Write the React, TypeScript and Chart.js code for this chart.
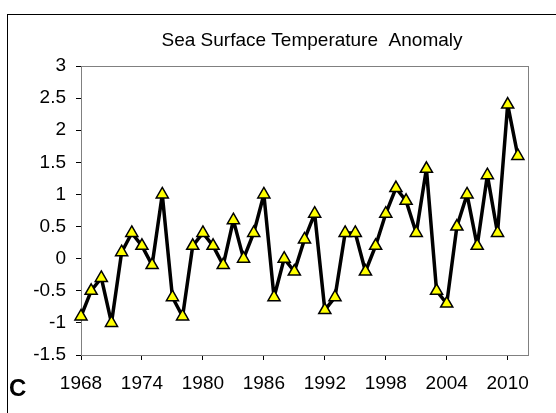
import React, { useEffect, useRef } from "react";
import { Chart, registerables } from "chart.js";

Chart.register(...registerables);

const titleText = "Sea Surface Temperature  Anomaly";
const panelLabel = "C";

const years = [
  1968, 1969, 1970, 1971, 1972, 1973, 1974, 1975, 1976, 1977, 1978, 1979,
  1980, 1981, 1982, 1983, 1984, 1985, 1986, 1987, 1988, 1989, 1990, 1991,
  1992, 1993, 1994, 1995, 1996, 1997, 1998, 1999, 2000, 2001, 2002, 2003,
  2004, 2005, 2006, 2007, 2008, 2009, 2010, 2011,
];

const anomaly = [
  -0.9, -0.5, -0.3, -1.0, 0.1, 0.4, 0.2, -0.1, 1.0, -0.6, -0.9, 0.2,
  0.4, 0.2, -0.1, 0.6, 0.0, 0.4, 1.0, -0.6, 0.0, -0.2, 0.3, 0.7,
  -0.8, -0.6, 0.4, 0.4, -0.2, 0.2, 0.7, 1.1, 0.9, 0.4, 1.4, -0.5,
  -0.7, 0.5, 1.0, 0.2, 1.3, 0.4, 2.4, 1.6,
];

const xTickYears = [1968, 1974, 1980, 1986, 1992, 1998, 2004, 2010];
const yTicks = [-1.5, -1, -0.5, 0, 0.5, 1, 1.5, 2, 2.5, 3];

const FONT = "'Liberation Sans', Arial, sans-serif";

const framePlugin = {
  id: "framePlugin",
  beforeDatasetsDraw(chart: any) {
    const { ctx, chartArea } = chart;
    ctx.save();
    ctx.strokeStyle = "#000";
    ctx.lineWidth = 1;
    ctx.strokeRect(7.5, 14.5, 700, 600);
    ctx.strokeStyle = "#808080";
    ctx.strokeRect(
      Math.round(chartArea.left) + 0.5,
      Math.round(chartArea.top) + 0.5,
      Math.round(chartArea.right - chartArea.left),
      Math.round(chartArea.bottom - chartArea.top)
    );
    ctx.fillStyle = "#000";
    ctx.font = `19px ${FONT}`;
    ctx.textAlign = "center";
    ctx.textBaseline = "alphabetic";
    ctx.fillText(titleText, 312, 46);
    ctx.font = `bold 24px ${FONT}`;
    ctx.textAlign = "left";
    ctx.fillText(panelLabel, 9, 396);
    ctx.restore();
  },
};

export default function App() {
  const canvasRef = useRef<HTMLCanvasElement | null>(null);

  useEffect(() => {
    if (!canvasRef.current) return;
    const chart = new Chart(canvasRef.current, {
      type: "line",
      data: {
        datasets: [
          {
            data: years.map((y, i) => ({ x: y, y: anomaly[i] })),
            borderColor: "#000",
            borderWidth: 3.5,
            borderJoinStyle: "round",
            borderCapStyle: "round",
            tension: 0,
            pointStyle: "triangle",
            pointRadius: 7,
            pointBackgroundColor: "#ffff00",
            pointBorderColor: "#000",
            pointBorderWidth: 1.5,
            clip: false as any,
          },
        ],
      },
      plugins: [framePlugin],
      options: {
        responsive: false,
        animation: false,
        events: [],
        layout: { padding: { left: 0, right: 28, top: 66, bottom: 0 } },
        plugins: {
          legend: { display: false },
          title: { display: false },
          tooltip: { enabled: false },
        },
        scales: {
          x: {
            type: "linear",
            min: 1968,
            max: 2012,
            afterBuildTicks: (scale: any) => {
              scale.ticks = xTickYears.map((v) => ({ value: v }));
            },
            afterFit: (scale: any) => {
              scale.height = 58;
            },
            grid: {
              drawOnChartArea: false,
              drawTicks: true,
              tickLength: 5,
              color: "#000",
            },
            border: { display: true, color: "#000", width: 1 },
            ticks: {
              color: "#000",
              font: { family: FONT, size: 19 },
              padding: 12,
              maxRotation: 0,
              autoSkip: false,
              callback: (v: any) => String(v),
            },
          },
          y: {
            type: "linear",
            min: -1.5,
            max: 3,
            afterBuildTicks: (scale: any) => {
              scale.ticks = yTicks.map((v) => ({ value: v }));
            },
            afterFit: (scale: any) => {
              scale.width = 81;
            },
            grid: {
              drawOnChartArea: false,
              drawTicks: true,
              tickLength: 5,
              color: "#000",
            },
            border: { display: true, color: "#000", width: 1 },
            ticks: {
              color: "#000",
              font: { family: FONT, size: 19 },
              padding: 10,
              autoSkip: false,
              callback: (v: any) => String(v),
            },
          },
        },
      },
    });
    return () => chart.destroy();
  }, []);

  return (
    <div
      style={{
        position: "fixed",
        left: 0,
        top: 0,
        width: 556,
        height: 413,
        overflow: "hidden",
        background: "#fff",
      }}
    >
      <canvas
        ref={canvasRef}
        width={556}
        height={413}
        style={{ display: "block", width: 556, height: 413 }}
      />
    </div>
  );
}
